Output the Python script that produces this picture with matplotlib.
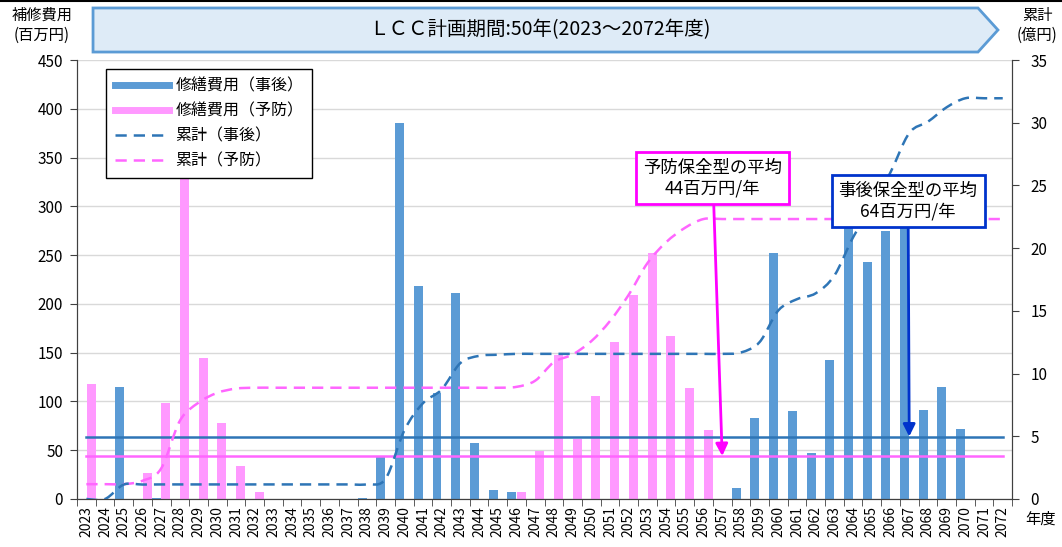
import numpy as np
import matplotlib
matplotlib.use('Agg')
import matplotlib.pyplot as plt
from matplotlib.path import Path
from matplotlib.patches import PathPatch, Polygon
from matplotlib.lines import Line2D

plt.rcParams['font.family'] = ['Noto Sans CJK JP', 'DejaVu Sans']

years = [str(y) for y in range(2023, 2073)]

# 修繕費用（百万円）
jigo = [0, 0, 115, 0, 1, 0, 0, 0, 0, 0,
        0, 0, 0, 0, 0, 1, 44, 385, 218, 109,
        211, 57, 9, 7, 0, 0, 0, 0, 0, 0,
        0, 0, 0, 0, 0, 11, 83, 252, 90, 47,
        142, 305, 243, 275, 312, 91, 115, 72, 0, 0]
yobo = [118, 0, 0, 27, 98, 380, 145, 78, 34, 7,
        0, 0, 0, 0, 0, 0, 0, 0, 0, 0,
        0, 0, 0, 7, 49, 148, 61, 106, 161, 209,
        252, 167, 114, 71, 0, 0, 0, 0, 0, 0,
        0, 0, 0, 0, 0, 0, 0, 0, 0, 0]

# 累計（億円）
cum_jigo = [0, 0, 1.15, 1.15, 1.16, 1.16, 1.16, 1.16, 1.16, 1.16,
            1.16, 1.16, 1.16, 1.16, 1.16, 1.17, 1.61, 5.46, 7.64, 8.73,
            10.84, 11.41, 11.50, 11.57, 11.57, 11.57, 11.57, 11.57, 11.57, 11.57,
            11.57, 11.57, 11.57, 11.57, 11.57, 11.68, 12.51, 15.03, 15.93, 16.40,
            17.82, 20.87, 23.30, 26.05, 29.17, 30.08, 31.23, 31.95, 31.95, 31.95]
cum_yobo = [1.18, 1.18, 1.18, 1.45, 2.43, 6.23, 7.68, 8.46, 8.80, 8.87,
            8.87, 8.87, 8.87, 8.87, 8.87, 8.87, 8.87, 8.87, 8.87, 8.87,
            8.87, 8.87, 8.87, 8.94, 9.43, 10.91, 11.52, 12.58, 14.19, 16.28,
            18.80, 20.47, 21.61, 22.32, 22.32, 22.32, 22.32, 22.32, 22.32, 22.32,
            22.32, 22.32, 22.32, 22.32, 22.32, 22.32, 22.32, 22.32, 22.32, 22.32]

avg_jigo = 64
avg_yobo = 44

BLUE_BAR = '#5B9BD5'
PINK_BAR = '#FF99FF'
BLUE_LINE = '#2E75B6'
PINK_LINE = '#FF66FF'
DASH = (0, (4.5, 2.8))


def smooth_path(xs, ys):
    # excel style smoothed line as bezier segments
    n = len(xs)
    verts = [(xs[0], ys[0])]
    codes = [Path.MOVETO]
    for i in range(n - 1):
        a, b = max(i - 1, 0), min(i + 2, n - 1)
        verts.append((xs[i] + (xs[i + 1] - xs[a]) / 6, ys[i] + (ys[i + 1] - ys[a]) / 6))
        verts.append((xs[i + 1] - (xs[b] - xs[i]) / 6, ys[i + 1] - (ys[b] - ys[i]) / 6))
        verts.append((xs[i + 1], ys[i + 1]))
        codes += [Path.CURVE4] * 3
    return Path(verts, codes)


fig = plt.figure(figsize=(10.62, 5.47), dpi=100)
ax = fig.add_axes([0.0725, 0.0878, 0.8805, 0.8025])
ax2 = ax.twinx()

x = np.arange(len(years))
ax.bar(x - 0.25, jigo, width=0.48, color=BLUE_BAR, linewidth=0, zorder=2)
ax.bar(x + 0.25, yobo, width=0.48, color=PINK_BAR, linewidth=0, zorder=2)
ax.plot([x[0], x[-1]], [avg_jigo, avg_jigo], color=BLUE_LINE, lw=1.8, zorder=3)
ax.plot([x[0], x[-1]], [avg_yobo, avg_yobo], color=PINK_LINE, lw=1.8, zorder=3)

ax2.add_patch(PathPatch(smooth_path(x, cum_yobo), fill=False, edgecolor=PINK_LINE,
                        lw=1.8, linestyle=DASH, zorder=3))
ax2.add_patch(PathPatch(smooth_path(x, cum_jigo), fill=False, edgecolor=BLUE_LINE,
                        lw=1.8, linestyle=DASH, zorder=3))

ax.set_xlim(-0.5, len(years) - 0.5)
ax.set_ylim(0, 450)
ax.set_yticks(range(0, 451, 50))
ax2.set_ylim(0, 35)
ax2.set_yticks(range(0, 36, 5))

ax.set_xticks(x)
ax.set_xticklabels(years, rotation=90, fontsize=10)
ax.set_xticks(np.arange(len(years) + 1) - 0.5, minor=True)
ax.tick_params(axis='x', which='major', length=0, pad=5)
ax.tick_params(axis='x', which='minor', length=5, direction='out', color='#404040')
ax.tick_params(axis='y', length=5, pad=5, labelsize=11, color='#404040')
ax2.tick_params(axis='y', length=5, pad=8, labelsize=11, color='#404040')

ax.grid(axis='y', color='#D9D9D9', lw=1)
ax.set_axisbelow(True)
for a in (ax, ax2):
    a.spines['top'].set_visible(False)
    for s in ('left', 'right', 'bottom'):
        a.spines[s].set_color('#404040')

handles = [Line2D([], [], color=BLUE_BAR, lw=5),
           Line2D([], [], color=PINK_BAR, lw=5),
           Line2D([], [], color=BLUE_LINE, lw=1.8, ls=DASH),
           Line2D([], [], color=PINK_LINE, lw=1.8, ls=DASH)]
labels = ['修繕費用（事後）', '修繕費用（予防）', '累計（事後）', '累計（予防）']
leg = ax2.legend(handles, labels, loc='upper left', bbox_to_anchor=(0.031, 0.98),
                 fancybox=False, edgecolor='black', framealpha=1, fontsize=11.5,
                 handlelength=3.4, borderpad=0.55, labelspacing=0.5,
                 handletextpad=0.4, borderaxespad=0)
leg.get_frame().set_linewidth(1)
leg.set_zorder(8)

ax2.annotate('予防保全型の平均\n44百万円/年', xy=(34, avg_yobo), xytext=(33.5, 329),
             xycoords=ax.transData, textcoords=ax.transData,
             ha='center', va='center', fontsize=12.5, linespacing=1.15, zorder=10,
             bbox=dict(boxstyle='square,pad=0.4', fc='white', ec='#FF00FF', lw=2),
             arrowprops=dict(arrowstyle='-|>', color='#FF00FF', lw=2,
                             mutation_scale=18, shrinkA=0, shrinkB=0))
ax2.annotate('事後保全型の平均\n64百万円/年', xy=(44, avg_jigo), xytext=(43.94, 305),
             xycoords=ax.transData, textcoords=ax.transData,
             ha='center', va='center', fontsize=12.5, linespacing=1.15, zorder=10,
             bbox=dict(boxstyle='square,pad=0.4', fc='white', ec='#0033CC', lw=2),
             arrowprops=dict(arrowstyle='-|>', color='#0033CC', lw=2,
                             mutation_scale=18, shrinkA=0, shrinkB=0))

# banner on top
banner = Polygon([(0.0876, 0.9854), (0.9209, 0.9854), (0.9397, 0.9452),
                  (0.9209, 0.9049), (0.0876, 0.9049)], closed=True,
                 transform=fig.transFigure, fc='#DEEBF7', ec=BLUE_BAR, lw=2)
fig.add_artist(banner)
fig.text(0.508, 0.9452, 'ＬＣＣ計画期間:50年(2023～2072年度)', ha='center', va='center',
         fontsize=14)
fig.add_artist(Line2D([0, 1], [0.999, 0.999], transform=fig.transFigure, color='black', lw=1.5))

fig.text(0.0395, 0.954, '補修費用\n(百万円)', ha='center', va='center', fontsize=11,
         linespacing=1.2)
fig.text(0.9765, 0.954, '累計\n(億円)', ha='center', va='center', fontsize=11,
         linespacing=1.2)
fig.text(0.9795, 0.051, '年度', ha='center', va='center', fontsize=11)

plt.savefig('out.png', dpi=100)
